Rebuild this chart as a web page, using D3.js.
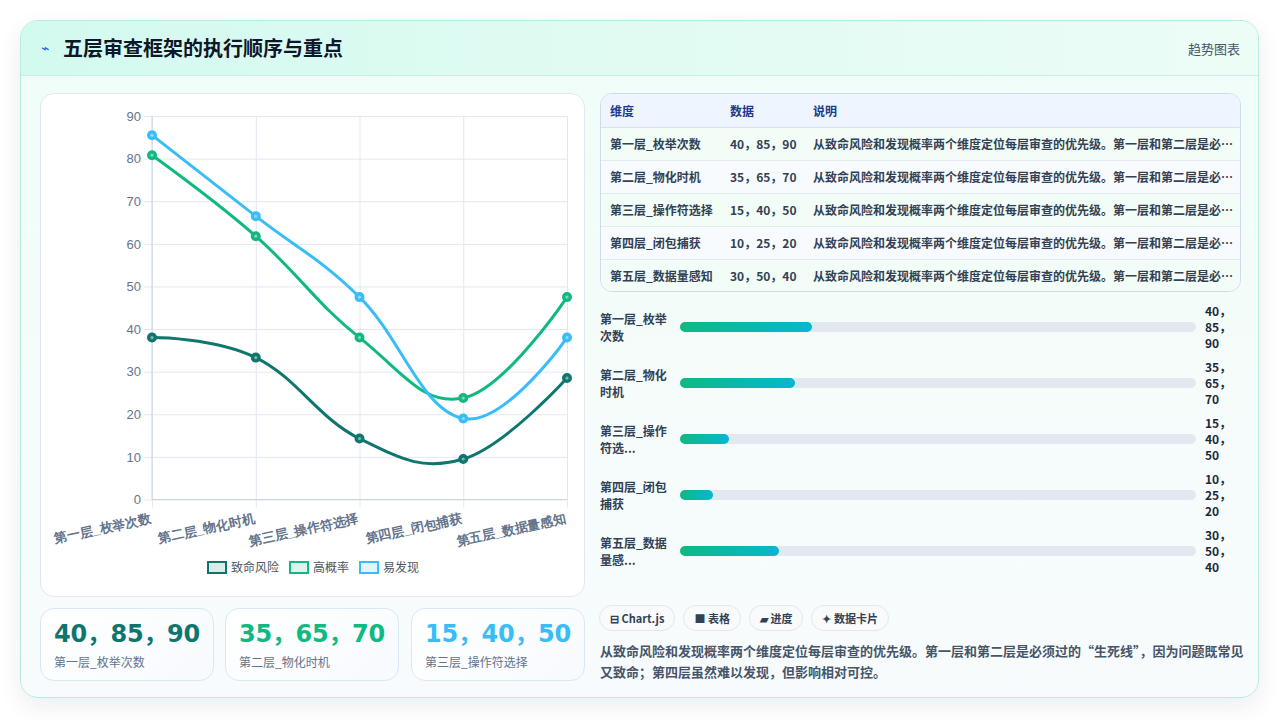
<!DOCTYPE html>
<html lang="zh">
<head>
<meta charset="utf-8">
<script src="https://cdn.jsdelivr.net/npm/d3@7"></script>
<style>
  * { box-sizing: border-box; }
  body { margin: 0; width: 1280px; height: 720px; background: #fff; overflow: hidden;
         font-family: "Noto Sans CJK SC", "Noto Sans", sans-serif; }
  .page { position: absolute; left: 20px; top: 20px; width: 1239px; height: 678px;
          border: 1px solid #b6ede0; border-radius: 18px; overflow: hidden;
          background: linear-gradient(180deg, #effdf7 0%, #f6fcfb 60%, #f7fbfd 100%);
          box-shadow: 0 8px 24px rgba(15, 23, 42, 0.08); }
  .head { position: absolute; left: 0; top: 0; width: 100%; height: 55px;
          background: linear-gradient(90deg, #d3faef 0%, #e3fbf3 60%, #ecfdf6 100%);
          border-bottom: 1px solid #c9efe4; }
  .head .icon { position: absolute; left: 20px; top: 16px; font-size: 14px; color: #2563eb; }
  .head .title { position: absolute; left: 42px; top: 12px; font-size: 20px; font-weight: 700; color: #0f172a; }
  .head .kind { position: absolute; right: 18px; top: 18px; font-size: 13px; color: #475569; }
  .box { position: absolute; background: #fff; border: 1px solid #e2e8f0; border-radius: 14px; }
  .kpi { position: absolute; top: 608px; width: 174px; height: 73px; border: 1px solid #dbe7f5;
         border-radius: 14px; background: linear-gradient(135deg, #ffffff, #f7fafe); }
  .kpi .v { position: absolute; left: 13px; top: 13px; font-family: "DejaVu Sans", "Noto Sans CJK SC", sans-serif;
            font-weight: 700; font-size: 24px; line-height: 24px; height: 24px; letter-spacing: -0.3px; white-space: nowrap; }
  .kpi .l { position: absolute; left: 13px; top: 44px; font-size: 12px; line-height: 17px; color: #64748b; }
  .tbl { position: absolute; left: 600px; top: 93px; width: 641px; height: 199px;
         border: 1px solid #cfdbe6; border-radius: 12px; overflow: hidden; background: #fff; }
  table { border-collapse: collapse; width: 100%; table-layout: fixed; }
  th { height: 33px; text-align: left; font-size: 12px; font-weight: 700; color: #1e3a8a;
       background: #eef5ff; padding: 0 0 0 9px; border-bottom: 1px solid #d6e2ee; }
  td { height: 33px; font-size: 12px; font-weight: 600; color: #334155; padding: 0 0 0 9px;
       white-space: nowrap; overflow: visible; border-bottom: 1px solid #e3eaf0; }
  td.desc { overflow: hidden; text-overflow: ellipsis; padding-right: 4px; }
  tr:last-child td { border-bottom: none; }
  tbody tr:nth-child(odd) td { background: #f1fdf6; }
  tbody tr:nth-child(even) td { background: #f8fbfd; }
  .bar { position: absolute; left: 600px; width: 640px; height: 56px; }
  .bar .lab { position: absolute; left: 0; font-size: 12px; font-weight: 700; color: #334155; line-height: 17px; }
  .bar .track { position: absolute; left: 80px; width: 516px; height: 10px; border-radius: 5px; background: #e2e8f0; }
  .bar .fill { position: absolute; left: 0; top: 0; height: 10px; border-radius: 5px;
               background: linear-gradient(90deg, #10b981, #06b6d4); }
  .bar .val { position: absolute; left: 605px; font-size: 12px; font-weight: 700; color: #1e293b; line-height: 16px; }
  .tags { position: absolute; left: 599px; top: 605px; display: flex; gap: 8px; }
  .tag { height: 26px; padding: 0 10px; border: 1px solid #e2e8f0; border-radius: 13px; background: #f8fafc;
         font-size: 11px; font-weight: 700; color: #334155; line-height: 24px; white-space: nowrap; }
  .note { position: absolute; left: 600px; top: 640px; width: 645px; font-size: 13px; font-weight: 600;
          color: #475569; line-height: 21px; }
</style>
</head>
<body>
<div class="page">
  <div class="head"><span class="icon">⌁</span><span class="title">五层审查框架的执行顺序与重点</span><span class="kind">趋势图表</span></div>
</div>
<div class="box" style="left:40px;top:93px;width:545px;height:504px;"><svg id="chart" width="545" height="504"></svg></div>
<div id="kpis"></div>
<div class="tbl"><table id="tbl"></table></div>
<div id="bars"></div>
<div class="tags" id="tags"></div>
<div class="note" id="note"></div>

<script>
// categories and values
const categories = ["第一层_枚举次数", "第二层_物化时机", "第三层_操作符选择", "第四层_闭包捕获", "第五层_数据量感知"];
const seriesNames = ["致命风险", "高概率", "易发现"];
const fatalRisk = [38, 33.3, 14.3, 9.5, 28.5];
const highProb = [80.8, 61.8, 38, 23.8, 47.5];
const easyFind = [85.5, 66.5, 47.5, 19, 38];
const yTicks = [0, 10, 20, 30, 40, 50, 60, 70, 80, 90];
const dataText = ["40，85，90", "35，65，70", "15，40，50", "10，25，20", "30，50，40"];
const barShare = [25.6, 22.3, 9.5, 6.4, 19.2];
const tableHeads = ["维度", "数据", "说明"];
const noteText = "从致命风险和发现概率两个维度定位每层审查的优先级。第一层和第二层是必须过的“生死线”，因为问题既常见又致命；第四层虽然难以发现，但影响相对可控。";
const tagNames = ["⊟ Chart.js", "■ 表格", "▰ 进度", "✦ 数据卡片"];

const colors = ["#0f766e", "#10b981", "#38bdf8"];
const tints = ["rgba(15,118,110,0.15)", "rgba(16,185,129,0.15)", "rgba(56,189,248,0.15)"];
const series = [fatalRisk, highProb, easyFind];

// line chart
const svg = d3.select("#chart");
const x = d3.scalePoint().domain(categories).range([111, 526]);
const y = d3.scaleLinear().domain([0, 90]).range([405.5, 22]);

const gy = svg.append("g").attr("transform", "translate(111,0)")
  .call(d3.axisLeft(y).tickValues(yTicks).tickSize(-415).tickPadding(11));
gy.select(".domain").remove();
gy.selectAll(".tick line").attr("x1", -8).attr("stroke", "#e2e8f0");
gy.selectAll(".tick text").attr("fill", "#64748b").style("font-size", "13px")
  .style("font-family", "'Liberation Sans', Arial, sans-serif");

const gx = svg.append("g").attr("transform", "translate(0,405.5)")
  .call(d3.axisBottom(x).tickSize(-383.5).tickPadding(0));
gx.select(".domain").remove();
gx.selectAll(".tick line").attr("y1", 8).attr("stroke", "#e2e8f0");
gx.selectAll(".tick text")
  .attr("y", 0).attr("dy", 0)
  .attr("text-anchor", "end")
  .attr("transform", "translate(-1,23) rotate(-12)")
  .attr("fill", "#64748b").style("font-size", "13px").style("font-weight", "700");

// axis border lines
svg.append("line").attr("x1", 111).attr("x2", 111).attr("y1", 22).attr("y2", 405.5).attr("stroke", "#cbd5e1");
svg.append("line").attr("x1", 111).attr("x2", 526).attr("y1", 405.5).attr("y2", 405.5).attr("stroke", "#cbd5e1");

const line = d3.line()
  .x((d, i) => x(categories[i]))
  .y(d => y(d))
  .curve(d3.curveCardinal.tension(-0.2));

series.forEach((vals, s) => {
  svg.append("path").datum(vals).attr("d", line)
    .attr("fill", "none").attr("stroke", colors[s]).attr("stroke-width", 3);
});
series.forEach((vals, s) => {
  svg.append("g").selectAll("circle").data(vals).join("circle")
    .attr("cx", (d, i) => x(categories[i])).attr("cy", d => y(d)).attr("r", 4)
    .attr("fill", colors[s]).attr("stroke", colors[s]).attr("stroke-width", 2);
  svg.append("g").selectAll("circle").data(vals).join("circle")
    .attr("cx", (d, i) => x(categories[i])).attr("cy", d => y(d)).attr("r", 1.6)
    .attr("fill", "#fff").attr("opacity", 0.45);
});

// legend
const legend = svg.append("g").attr("transform", "translate(166,467)");
let lx = 0;
seriesNames.forEach((name, s) => {
  const it = legend.append("g").attr("transform", `translate(${lx},0)`);
  it.append("rect").attr("x", 1).attr("y", 1).attr("width", 18).attr("height", 11)
    .attr("fill", tints[s]).attr("stroke", colors[s]).attr("stroke-width", 2);
  const t = it.append("text").attr("x", 24).attr("y", 11).text(name)
    .attr("fill", "#4b5563").style("font-size", "12px");
  lx += 24 + t.node().getComputedTextLength() + 10;
});

// KPI cards
const kpiLeft = [40, 225, 411];
d3.select("#kpis").selectAll("div").data([0, 1, 2]).join("div")
  .attr("class", "kpi").style("left", d => kpiLeft[d] + "px")
  .html(d => `<div class="v" style="color:${colors[d]}">${dataText[d]}</div><div class="l">${categories[d]}</div>`);

// table
const tbl = d3.select("#tbl");
const cg = tbl.append("colgroup");
[120, 83, 438].forEach(w => cg.append("col").style("width", w + "px"));
tbl.append("thead").append("tr").selectAll("th").data(tableHeads).join("th").text(d => d);
tbl.append("tbody").selectAll("tr").data(categories).join("tr")
  .selectAll("td").data((c, i) => [c, dataText[i], noteText]).join("td")
  .attr("class", (d, k) => k === 2 ? "desc" : null).text(d => d);

// progress rows
const w = d3.scaleLinear().domain([0, 100]).range([0, 516]);
const rows = d3.select("#bars").selectAll("div").data(categories).join("div")
  .attr("class", "bar").style("top", (d, i) => (299 + i * 56) + "px");
rows.append("div").attr("class", "lab").style("top", "11px").html(d => {
  const s = d.length > 8 ? d.slice(0, 8) + "..." : d;
  return s.slice(0, 6) + "<br>" + s.slice(6);
});
const tr = rows.append("div").attr("class", "track").style("top", "23px");
tr.append("div").attr("class", "fill").style("width", (d, i) => w(barShare[i]) + "px");
rows.append("div").attr("class", "val").style("top", "4px")
  .html((d, i) => dataText[i].split("，").map((p, k, a) => k < a.length - 1 ? p + "，" : p).join("<br>"));

// tags & note
d3.select("#tags").selectAll("div").data(tagNames).join("div").attr("class", "tag").text(d => d);
d3.select("#note").text(noteText);
</script>
</body>
</html>
